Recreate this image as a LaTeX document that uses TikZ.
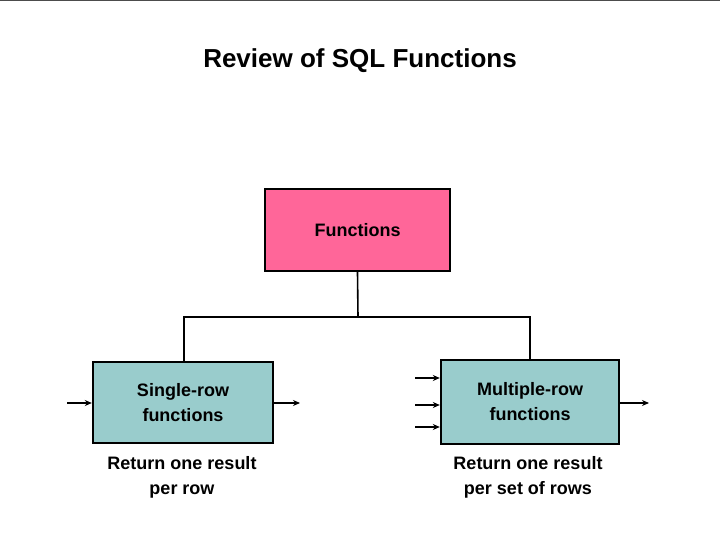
\documentclass[tikz,border=0pt]{standalone}
\usepackage{fontspec}
\setmainfont{Liberation Sans}
\usetikzlibrary{arrows.meta}
\definecolor{pinkfill}{RGB}{255,102,153}
\definecolor{tealfill}{RGB}{153,204,204}
\begin{document}
\begin{tikzpicture}[x=1pt,y=-1pt,
  box/.style={draw=black,line width=2.4pt,minimum width=#1,inner sep=0pt,align=center,font=\bfseries\fontsize{18}{25}\selectfont},
  conn/.style={line width=1.6pt},
  arr/.style={line width=1.5pt,-{Stealth[length=7pt,width=6pt]}},
  note/.style={align=center,font=\bfseries\fontsize{18}{25}\selectfont}]
\useasboundingbox (0,0) rectangle (720,540);
\draw[line width=2pt,black!70] (0,0.5) -- (720,0.5);
\node[font=\bfseries\fontsize{26}{30}\selectfont] (title) at (360,61) {Review of SQL Functions};
\node[box=185pt,minimum height=82pt,fill=pinkfill] (func) at (357.5,230) {Functions};
\node[box=180pt,minimum height=81pt,fill=tealfill] (single) at (183,402.5) {Single-row\\functions};
\node[box=178pt,minimum height=84pt,fill=tealfill] (multi) at (530,402) {Multiple-row\\functions};
\coordinate (j) at (358,317);
\draw[conn] (func.south) -- (j);
\draw[conn] (single.north -| 184,0) |- (j) -| (multi.north);
\coordinate (sin) at (67,403);
\coordinate (sout) at (300,403);
\draw[arr] (sin) -- (sin -| single.west);
\draw[arr] (sin -| single.east) -- (sout);
\coordinate (m1) at (415,378);
\coordinate (m2) at (415,405);
\coordinate (m3) at (415,427);
\coordinate (mout) at (649,403);
\draw[arr] (m1) -- (m1 -| multi.west);
\draw[arr] (m2) -- (m2 -| multi.west);
\draw[arr] (m3) -- (m3 -| multi.west);
\draw[arr] (mout -| multi.east) -- (mout);
\node[note] (n1) at (182,477) {Return one result\\per row};
\node[note] (n2) at (528,477) {Return one result\\per set of rows};
\end{tikzpicture}
\end{document}
